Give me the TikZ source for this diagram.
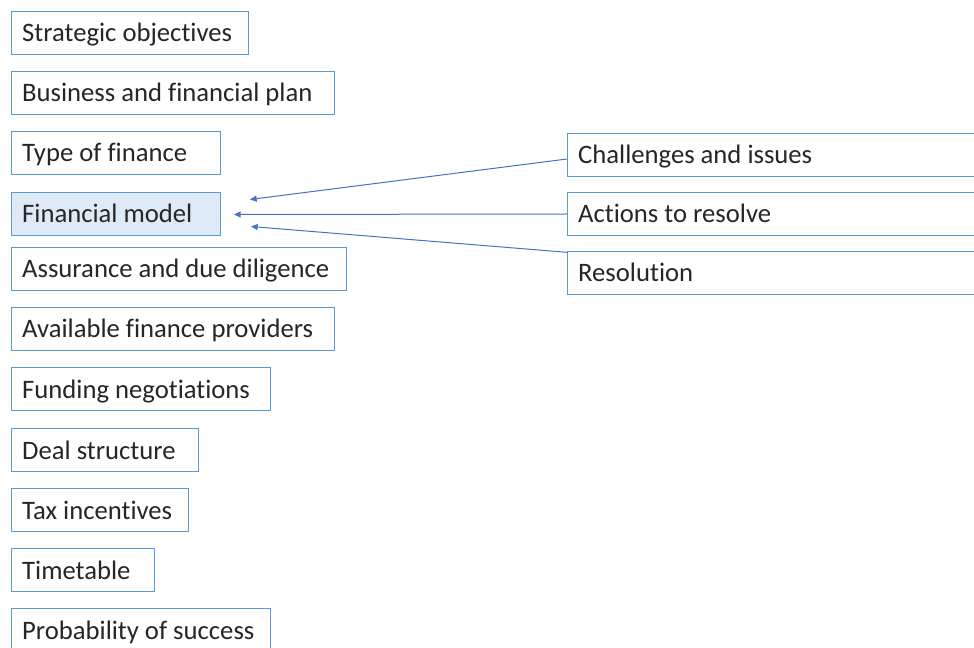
\documentclass[tikz,border=0pt]{standalone}
\usepackage{fontspec}
\setmainfont{Carlito}[Ligatures=NoCommon]
\definecolor{boxblue}{RGB}{91, 155, 213}
\definecolor{linkblue}{RGB}{68, 114, 196}
\definecolor{hilite}{RGB}{222, 235, 247}
\usetikzlibrary{arrows.meta, calc}

\begin{document}
\begin{tikzpicture}[
  x=0.75pt, y=-0.75pt,
  stepbox/.style={draw=boxblue, line width=0.75pt, anchor=north west, minimum height=32.25pt,
    inner xsep=8pt, inner ysep=3pt, text height=16.5pt, text depth=3pt,
    font=\fontsize{20}{24}\selectfont, text=black!85},
  link/.style={linkblue, line width=0.75pt, -{Triangle[length=5pt, width=4.5pt]}}
]
  \useasboundingbox (0,0) rectangle (974,648);

  % Process steps down the left
  \foreach \i/\t/\r/\f/\txt in {1/11/248/white/Strategic objectives,
      2/71/334/white/Business and financial plan,
      3/131/220/white/Type of finance,
      4/192/220/hilite/Financial model,
      5/247/346/white/Assurance and due diligence,
      6/307/334/white/Available finance providers,
      7/367/270/white/Funding negotiations,
      8/428/198/white/Deal structure,
      9/488/188/white/Tax incentives,
      10/548/154/white/Timetable,
      11/608/270/white/Probability of success} {
    \pgfmathsetmacro\tw{(\r-11)*0.75-16}
    \node[stepbox, fill=\f] (s\i) at (11, \t) {\makebox[\tw pt][l]{\txt}};
  }

  % Issue tracking on the right
  \node[stepbox] (chal) at (567, 133) {\makebox[306pt][l]{Challenges and issues}};
  \node[stepbox] (act) at (567, 192) {\makebox[306pt][l]{Actions to resolve}};
  \node[stepbox] (res) at (567, 251) {\makebox[306pt][l]{Resolution}};

  % Feedback into the financial model
  \coordinate (tip1) at ($(s4.east)+(29,-14.5)$);
  \coordinate (tip2) at ($(s4.east)+(13,0.5)$);
  \coordinate (tip3) at ($(s4.east)+(30,12.5)$);
  \draw[link] ([yshift=-3pt]chal.west) -- (tip1);
  \draw[link] (act.west) -- (tip2);
  \draw[link] ([yshift=-1pt]res.north west) -- (tip3);
\end{tikzpicture}
\end{document}
